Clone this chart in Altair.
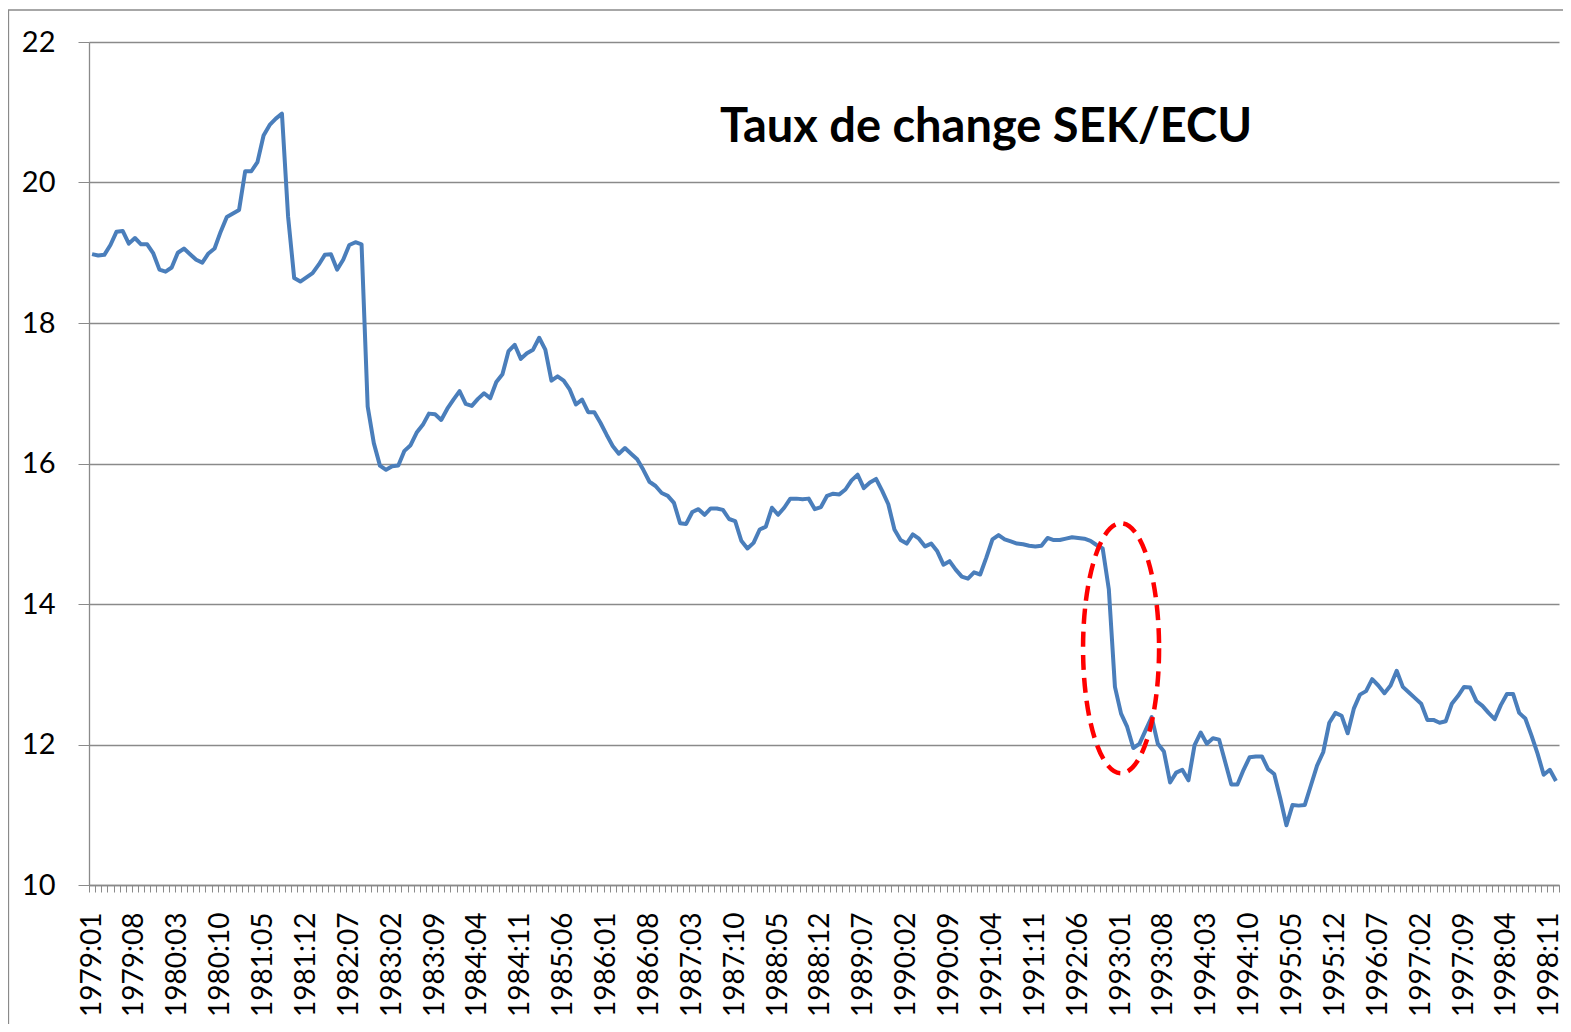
import altair as alt
import pandas as pd

# ---- data ----
years = list(range(1979, 1999))
months = [f"{y}:{m:02d}" for y in years for m in range(1, 13)]

rates_1979_1983 = [
    18.98, 18.96, 18.97, 19.11, 19.30, 19.31, 19.13, 19.21, 19.12, 19.12, 18.99, 18.76,
    18.73, 18.79, 19.00, 19.06, 18.98, 18.90, 18.86, 18.99, 19.06, 19.30, 19.51, 19.56,
    19.61, 20.16, 20.16, 20.29, 20.67, 20.82, 20.91, 20.98, 19.52, 18.64, 18.59, 18.65,
    18.71, 18.83, 18.97, 18.98, 18.76, 18.90, 19.11, 19.15, 19.12, 16.81, 16.29, 15.97,
    15.91, 15.96, 15.97, 16.18, 16.26, 16.44, 16.55, 16.71, 16.70, 16.62, 16.78, 16.91,
]
rates_1984_1988 = [
    17.03, 16.85, 16.82, 16.92, 17.00, 16.93, 17.16, 17.27, 17.60, 17.69, 17.49, 17.57,
    17.62, 17.79, 17.62, 17.18, 17.24, 17.18, 17.05, 16.84, 16.91, 16.73, 16.73, 16.58,
    16.41, 16.25, 16.14, 16.22, 16.14, 16.06, 15.91, 15.74, 15.68, 15.58, 15.54, 15.44,
    15.15, 15.14, 15.31, 15.35, 15.27, 15.36, 15.36, 15.34, 15.21, 15.18, 14.90, 14.79,
    14.87, 15.06, 15.10, 15.37, 15.27, 15.37, 15.50, 15.50, 15.49, 15.50, 15.35, 15.38,
]
rates_1989_1993 = [
    15.54, 15.57, 15.56, 15.63, 15.76, 15.84, 15.65, 15.73, 15.78, 15.61, 15.42, 15.06,
    14.91, 14.86, 14.99, 14.93, 14.82, 14.86, 14.75, 14.56, 14.61, 14.49, 14.39, 14.36,
    14.45, 14.42, 14.66, 14.92, 14.98, 14.92, 14.89, 14.86, 14.85, 14.83, 14.82, 14.83,
    14.94, 14.91, 14.91, 14.93, 14.95, 14.94, 14.93, 14.90, 14.84, 14.79, 14.21, 12.82,
    12.44, 12.25, 11.95, 12.01, 12.20, 12.39, 12.01, 11.90, 11.46, 11.60, 11.64, 11.49,
]
rates_1994_1998 = [
    11.99, 12.17, 12.01, 12.09, 12.07, 11.75, 11.43, 11.43, 11.64, 11.82, 11.83, 11.83,
    11.65, 11.58, 11.23, 10.85, 11.14, 11.13, 11.14, 11.42, 11.70, 11.89, 12.31, 12.45,
    12.41, 12.16, 12.51, 12.71, 12.76, 12.93, 12.84, 12.73, 12.84, 13.05, 12.82, 12.74,
    12.66, 12.58, 12.35, 12.35, 12.31, 12.33, 12.58, 12.69, 12.82, 12.81, 12.62, 12.55,
    12.45, 12.36, 12.56, 12.72, 12.72, 12.45, 12.37, 12.13, 11.87, 11.57, 11.64, 11.48,
]
rates = rates_1979_1983 + rates_1984_1988 + rates_1989_1993 + rates_1994_1998

tick_labels = [
    "1979:01", "1979:08", "1980:03", "1980:10", "1981:05", "1981:12", "1982:07",
    "1983:02", "1983:09", "1984:04", "1984:11", "1985:06", "1986:01", "1986:08",
    "1987:03", "1987:10", "1988:05", "1988:12", "1989:07", "1990:02", "1990:09",
    "1991:04", "1991:11", "1992:06", "1993:01", "1993:08", "1994:03", "1994:10",
    "1995:05", "1995:12", "1996:07", "1997:02", "1997:09", "1998:04", "1998:11",
]
y_ticks = [10, 12, 14, 16, 18, 20, 22]

title_text = "Taux de change SEK/ECU"

# highlighted zone (ellipse annotation)
highlight_month = ["1993:01"]
highlight_rate = [13.37]

df = pd.DataFrame({"month": months, "rate": rates})
hl = pd.DataFrame({"month": highlight_month, "rate": highlight_rate})

W, H = 1470, 843
GRAY = "#8a8a8a"
FONT = "Lato"

label_arr = "[" + ",".join(f"'{t}'" for t in tick_labels) + "]"

x_enc = alt.X(
    "month:O",
    scale=alt.Scale(type="band", domain=months, paddingInner=0, paddingOuter=0),
    bandPosition=0.5,
    axis=alt.Axis(
        title=None,
        labelAngle=-90,
        labelAlign="right",
        labelBaseline="middle",
        labelExpr=f"indexof({label_arr}, datum.value) >= 0 ? datum.value : ''",
        labelOverlap=False,
        tickBand="extent",
        tickSize=7,
        tickColor=GRAY,
        tickWidth=1,
        domainColor=GRAY,
        domainWidth=1.3,
        labelFont=FONT,
        labelFontSize=28,
        labelColor="black",
        labelPadding=20,
        grid=False,
    ),
)
y_enc = alt.Y(
    "rate:Q",
    scale=alt.Scale(domain=[10, 22], nice=False, zero=False),
    axis=alt.Axis(
        title=None,
        values=y_ticks,
        format="d",
        tickSize=11,
        tickColor=GRAY,
        domainColor=GRAY,
        domainWidth=1.3,
        grid=True,
        gridColor=GRAY,
        gridWidth=1.3,
        labelFont=FONT,
        labelFontSize=29,
        labelColor="black",
        labelPadding=23,
    ),
)

line = alt.Chart(df).mark_line(color="#4a7ebb", strokeWidth=4, strokeJoin="round").encode(
    x=x_enc, y=y_enc
)

rx = 0.304
k = 0.5523
ellipse_path = (
    f"M {rx} 0 C {rx} {k} {rx*k:.4f} 1 0 1 "
    f"C {-rx*k:.4f} 1 {-rx} {k} {-rx} 0 "
    f"C {-rx} {-k} {-rx*k:.4f} -1 0 -1 "
    f"C {rx*k:.4f} -1 {rx} {-k} {rx} 0 Z"
)
ellipse = alt.Chart(hl).mark_point(
    shape=ellipse_path,
    size=62500,
    filled=False,
    stroke="#ff0000",
    strokeWidth=4.5,
    strokeDash=[15, 8],
    opacity=1,
).encode(x=alt.X("month:O"), y=alt.Y("rate:Q"))

title = alt.Chart(pd.DataFrame({"t": [title_text]})).mark_text(
    font=FONT, fontSize=47, fontWeight="bold", color="black",
    align="center", baseline="alphabetic",
).encode(text="t:N", x=alt.value(897), y=alt.value(100))

frame = alt.Chart(pd.DataFrame({"a": [0]})).mark_rect(
    fill=None, stroke=GRAY, strokeWidth=1.3
).encode(x=alt.value(-80.5), x2=alt.value(W + 200), y=alt.value(-32), y2=alt.value(H + 300))

chart = alt.layer(frame, line, ellipse, title).properties(
    width=W,
    height=H,
    autosize=alt.AutoSizeParams(type="none"),
    padding={"left": 81, "top": 34, "right": 4, "bottom": 139},
    background="white",
).configure_view(stroke=None)

chart.save("out.html", embed_options={"renderer": "svg", "actions": False})
